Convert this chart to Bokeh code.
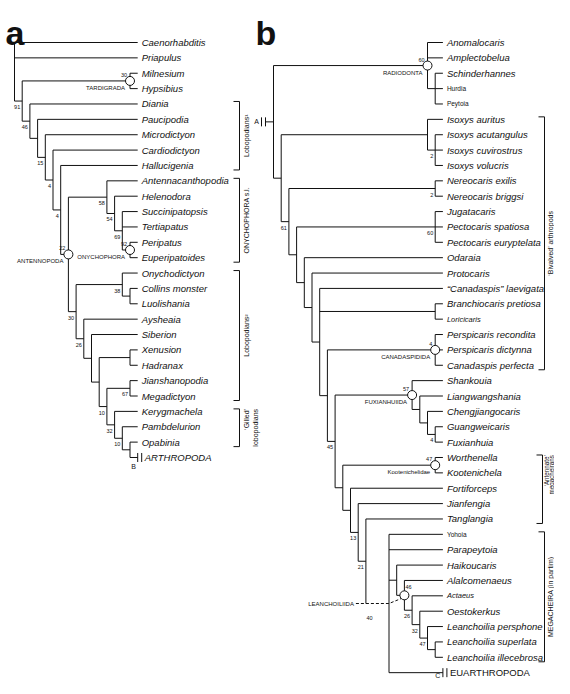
import math
from bokeh.plotting import figure
from bokeh.models import ColumnDataSource, Range1d
from bokeh.core.properties import value
from bokeh.embed import file_html
from bokeh.resources import INLINE

FONT = "Liberation Sans"

# ---------------- Panel a : tree data ----------------
a_node_ids = ["root", "N1", "TAR", "N2", "N3", "N4", "N5", "N6", "ANT",
              "O1", "O2", "O3", "ONY", "L1", "C1", "C2", "L2", "L3", "L4",
              "XH", "L5", "JM", "L6", "L7", "L8"]
a_node_parent = [None, "root", "N1", "N1", "N2", "N3", "N4", "N5", "N6",
                 "ANT", "O1", "O2", "O3", "ANT", "L1", "C1", "L1", "L2", "L3",
                 "L4", "L4", "L5", "L5", "L6", "L7"]
a_node_level = [0, 1, 15, 2, 3, 4, 5, 6, 7, 12, 13, 14, 15, 8, 14, 15, 9, 10, 11,
                15, 12, 15, 13, 14, 15]
a_node_support = ["", "91", "30", "46", "", "15", "4", "4", "22", "58", "54", "69",
                  "92", "30", "38", "", "26", "", "", "", "10", "67", "32", "10", ""]
a_clades = {"TAR": "TARDIGRADA", "ANT": "ANTENNOPODA", "ONY": "ONYCHOPHORA"}

a_leaves = ["Caenorhabditis", "Priapulus", "Milnesium", "Hypsibius", "Diania",
            "Paucipodia", "Microdictyon", "Cardiodictyon", "Hallucigenia",
            "Antennacanthopodia", "Helenodora", "Succinipatopsis", "Tertiapatus",
            "Peripatus", "Euperipatoides", "Onychodictyon", "Collins monster",
            "Luolishania", "Aysheaia", "Siberion", "Xenusion", "Hadranax",
            "Jianshanopodia", "Megadictyon", "Kerygmachela", "Pambdelurion",
            "Opabinia", "ARTHROPODA"]
a_leaf_parent = ["root", "root", "TAR", "TAR", "N2", "N3", "N4", "N5", "N6",
                 "O1", "O2", "O3", "O3", "ONY", "ONY", "C1", "C2", "C2", "L2",
                 "L3", "XH", "XH", "JM", "JM", "L6", "L7", "L8", "L8"]
a_brackets = [("Diania", "Hallucigenia", ["Lobopodians¹"]),
              ("Antennacanthopodia", "Euperipatoides", ["ONYCHOPHORA s.l."]),
              ("Onychodictyon", "Megadictyon", ["Lobopodians²"]),
              ("Kerygmachela", "Opabinia", ["‘Gilled’", "lobopodians"])]

# ---------------- Panel b : tree data ----------------
b_node_ids = ["root", "RAD", "R2", "B1", "I1", "I2", "B2", "NER", "B3", "PEC",
              "B4", "B5", "B6", "BL", "B7", "CAN", "B8", "FUX", "F2", "F3", "F4",
              "B9", "KOO", "B10", "B11", "B12", "MEG", "M1", "LEA", "LE2", "LE3",
              "LE4", "LE5"]
b_node_parent = [None, "root", "RAD", "root", "B1", "I1", "B1", "B2", "B2", "B3",
                 "B3", "B4", "B5", "B6", "B6", "B7", "B7", "B8", "FUX", "F2", "F3",
                 "B8", "B9", "B9", "B10", "B11", "B12", "MEG", "M1", "LEA", "LE2",
                 "LE3", "LE4"]
b_node_level = [0, 20, 21, 1, 20, 21, 2, 21, 3, 21, 4, 5, 6, 21, 7, 21, 8, 18, 19,
                20, 21, 9, 21, 10, 11, 12, 15, 16, 17, 18, 19, 20, 21]
b_node_support = ["", "60", "", "", "", "2", "61", "2", "", "60", "", "", "", "",
                  "", "4", "45", "57", "", "", "4", "", "47", "", "13", "21", "40",
                  "", "46", "26", "32", "47", ""]
b_clades = {"RAD": "RADIODONTA", "CAN": "CANADASPIDIDA", "FUX": "FUXIANHUIIDA",
            "KOO": "Kootenichelidae", "LEA": "LEANCHOILIIDA"}

b_leaves = ["Anomalocaris", "Amplectobelua", "Schinderhannes", "Hurdia", "Peytoia",
            "Isoxys auritus", "Isoxys acutangulus", "Isoxys cuvirostrus",
            "Isoxys volucris", "Nereocaris exilis", "Nereocaris briggsi",
            "Jugatacaris", "Pectocaris spatiosa", "Pectocaris euryptelata",
            "Odaraia", "Protocaris", "“Canadaspis” laevigata",
            "Branchiocaris pretiosa", "Loricicaris", "Perspicaris recondita",
            "Perspicaris dictynna", "Canadaspis perfecta", "Shankouia",
            "Liangwangshania", "Chengjiangocaris", "Guangweicaris", "Fuxianhuia",
            "Worthenella", "Kootenichela", "Fortiforceps", "Jianfengia",
            "Tanglangia", "Yohoia", "Parapeytoia", "Haikoucaris", "Alalcomenaeus",
            "Actaeus", "Oestokerkus", "Leanchoilia persphone",
            "Leanchoilia superlata", "Leanchoilia illecebrosa", "EUARTHROPODA"]
b_leaf_parent = ["RAD", "RAD", "R2", "R2", "R2", "I1", "I2", "I2", "I2", "NER",
                 "NER", "PEC", "PEC", "PEC", "B4", "B5", "B6", "BL", "BL", "CAN",
                 "CAN", "CAN", "FUX", "F2", "F3", "F4", "F4", "KOO", "KOO", "B10",
                 "B11", "B12", "MEG", "MEG", "M1", "LEA", "LE2", "LE3", "LE4",
                 "LE5", "LE5", "MEG"]
b_brackets = [("Isoxys auritus", "Canadaspis perfecta", ["‘Bivalved’ arthropods"]),
              ("Worthenella", "Tanglangia", ["‘Antennate’", "megacheirans"]),
              ("Yohoia", "Leanchoilia illecebrosa", ["MEGACHEIRA (in partim)"])]

small_upright = ["Hurdia", "Peytoia", "Yohoia"]
small_italic = ["Loricicaris", "Actaeus"]
upright_caps = ["EUARTHROPODA"]
stem_leaves = {"ARTHROPODA": "B", "EUARTHROPODA": "C"}

# ---------------- layout helpers ----------------
STEP = 7.7
ROW = 15.37
BRACKET_X_A = [239, 239, 239, 239]
BRACKET_X_B = [544, 542, 544]


def build(node_ids, node_parent, node_level, leaves, leaf_parent, x0, y0, leaf_level):
    nx = {n: x0 + l * STEP for n, l in zip(node_ids, node_level)}
    par = dict(zip(node_ids, node_parent))
    leaf_y = {name: y0 + i * ROW for i, name in enumerate(leaves)}
    children = {n: [] for n in node_ids}
    for n, pn in zip(node_ids, node_parent):
        if pn is not None:
            children[pn].append(("n", n))
    for name, pn in zip(leaves, leaf_parent):
        children[pn].append(("l", name))
    ny = {}

    def gety(kind, n):
        if kind == "l":
            return leaf_y[n]
        if n not in ny:
            ys = [gety(k, c) for k, c in children[n]]
            ny[n] = (min(ys) + max(ys)) / 2
        return ny[n]

    for n in node_ids:
        gety("n", n)
    leaf_end = x0 + leaf_level * STEP
    return dict(nx=nx, ny=ny, par=par, leaf_y=leaf_y, children=children,
                leaf_end=leaf_end, gety=gety)


p = figure(width=554, height=678, x_range=Range1d(0, 554), y_range=Range1d(678, 0),
           x_axis_type=None, y_axis_type=None, toolbar_location=None,
           output_backend="svg", min_border=0, outline_line_color=None)
p.grid.visible = False

seg_x, seg_y = [], []
dash_x, dash_y = [], []
circ_x, circ_y = [], []
texts = {}


def add_text(key, x, y, t):
    d = texts.setdefault(key, dict(x=[], y=[], text=[]))
    d["x"].append(x)
    d["y"].append(y)
    d["text"].append(t)


def draw_panel(L, node_ids, node_support, clades, leaves, leaf_parent, brackets,
               bxs, bdx, bkey, dashed_nodes, letter_dx, letter_dy):
    nx, ny, par, leaf_y = L["nx"], L["ny"], L["par"], L["leaf_y"]
    for n in node_ids:
        ys = [L["gety"](k, c) for k, c in L["children"][n]]
        seg_x.append([nx[n], nx[n]])
        seg_y.append([min(ys), max(ys)])
        if par[n] is not None and n not in dashed_nodes:
            seg_x.append([nx[par[n]], nx[n]])
            seg_y.append([ny[n], ny[n]])
    for name, pn in zip(leaves, leaf_parent):
        y = leaf_y[name]
        seg_x.append([nx[pn], L["leaf_end"]])
        seg_y.append([y, y])
        tx = L["leaf_end"] + 4
        if name in stem_leaves:
            for dx in (0, 4):
                seg_x.append([L["leaf_end"] + dx] * 2)
                seg_y.append([y - 4.5, y + 4.5])
            add_text("letter_small", L["leaf_end"] + letter_dx, y + letter_dy,
                     stem_leaves[name])
            tx = L["leaf_end"] + 7
        if name in small_upright:
            add_text("leaf_su", tx, y, name)
        elif name in small_italic:
            add_text("leaf_si", tx, y, name)
        elif name in upright_caps:
            add_text("leaf_up", tx, y, name)
        else:
            add_text("leaf", tx, y, name)
    for n, s in zip(node_ids, node_support):
        if n in clades:
            circ_x.append(nx[n])
            circ_y.append(ny[n])
            if n == "LEA":
                add_text("sup_l", nx[n] + 1, ny[n] - 8, s)
            else:
                if s:
                    add_text("sup", nx[n] - 3, ny[n] - 6, s)
                add_text("clade", nx[n] - 5, ny[n] + 7, clades[n])
        elif s:
            if n in dashed_nodes:
                add_text("sup_l", nx[par[n]] + 0.5, ny[n] + 14, s)
            else:
                add_text("sup", nx[n] - 2, ny[n] + 6, s)
    for (first, last, lines), bx in zip(brackets, bxs):
        top = leaf_y[first] - 2.5
        bot = leaf_y[last] + 4.5
        seg_x.append([bx - 6, bx, bx, bx - 6])
        seg_y.append([top, top, bot, bot])
        if len(lines) == 1:
            add_text(bkey + "_c", bx + bdx[0], (top + bot) / 2, lines[0])
        else:
            for i, t in enumerate(lines):
                add_text(bkey + "_r", bx + bdx[1 + i], top, t)


LA = build(a_node_ids, a_node_parent, a_node_level, a_leaves, a_leaf_parent, 14, 42, 16)
draw_panel(LA, a_node_ids, a_node_support, a_clades, a_leaves, a_leaf_parent,
           a_brackets, BRACKET_X_A, (6.5, 6.5, 15.5), "brka", [], -4, 9)

LB = build(b_node_ids, b_node_parent, b_node_level, b_leaves, b_leaf_parent, 273, 42, 22)
draw_panel(LB, b_node_ids, b_node_support, b_clades, b_leaves, b_leaf_parent,
           b_brackets, BRACKET_X_B, (6, 4, 9), "brkb", ["MEG"], -5, 2.5)

# root stem of panel b with "A"
rx, ry = LB["nx"]["root"], LB["ny"]["root"]
seg_x.append([rx - 8, rx]); seg_y.append([ry, ry])
for dx in (8, 12):
    seg_x.append([rx - dx, rx - dx]); seg_y.append([ry - 4.5, ry + 4.5])
add_text("letter_small", rx - 17, ry, "A")

# LEANCHOILIIDA dashed pointer
mx, my = LB["nx"]["MEG"], LB["ny"]["MEG"]
lx, ly = LB["nx"]["LEA"], LB["ny"]["LEA"]
px = LB["nx"]["B12"]
dash_x.append([px - 10, mx, lx - 3.2]); dash_y.append([my, my, ly + 3.2])
add_text("clade", px - 12, my, "LEANCHOILIIDA")

p.multi_line(seg_x, seg_y, line_color="#111111", line_width=1)
p.multi_line(dash_x, dash_y, line_color="#111111", line_width=1, line_dash="3 2")
p.scatter(circ_x, circ_y, marker="circle", size=9, fill_color="white",
          line_color="#111111", line_width=1)

styles = {
    "leaf": dict(text_font_size="9.5px", text_font_style="italic", text_align="left"),
    "leaf_up": dict(text_font_size="9.5px", text_font_style="normal", text_align="left"),
    "leaf_su": dict(text_font_size="6.5px", text_font_style="normal", text_align="left"),
    "leaf_si": dict(text_font_size="7.5px", text_font_style="italic", text_align="left"),
    "sup": dict(text_font_size="5.5px", text_font_style="normal", text_align="right"),
    "sup_l": dict(text_font_size="5.5px", text_font_style="normal", text_align="left"),
    "clade": dict(text_font_size="6px", text_font_style="normal", text_align="right"),
    "letter_small": dict(text_font_size="7px", text_font_style="normal", text_align="center"),
    "brka_c": dict(text_font_size="7px", text_font_style="normal", text_align="center",
                   angle=math.pi / 2),
    "brka_r": dict(text_font_size="7px", text_font_style="normal", text_align="right",
                   angle=math.pi / 2),
    "brkb_c": dict(text_font_size="7px", text_font_style="normal", text_align="center",
                   angle=math.pi / 2),
    "brkb_r": dict(text_font_size="6.3px", text_font_style="normal", text_align="right",
                   angle=math.pi / 2),
}
for key, d in texts.items():
    st = dict(styles[key])
    p.text(x="x", y="y", text="text", source=ColumnDataSource(d),
           text_font=value(FONT), text_baseline="middle", text_color="#111111", **st)

# panel letters
p.text(x=[5, 255], y=[32, 32], text=["a", "b"], text_font=value(FONT),
       text_font_size="34px", text_font_style="bold", text_baseline="alphabetic",
       text_color="#111111")

open("out.html", "w").write(file_html(p, INLINE))
